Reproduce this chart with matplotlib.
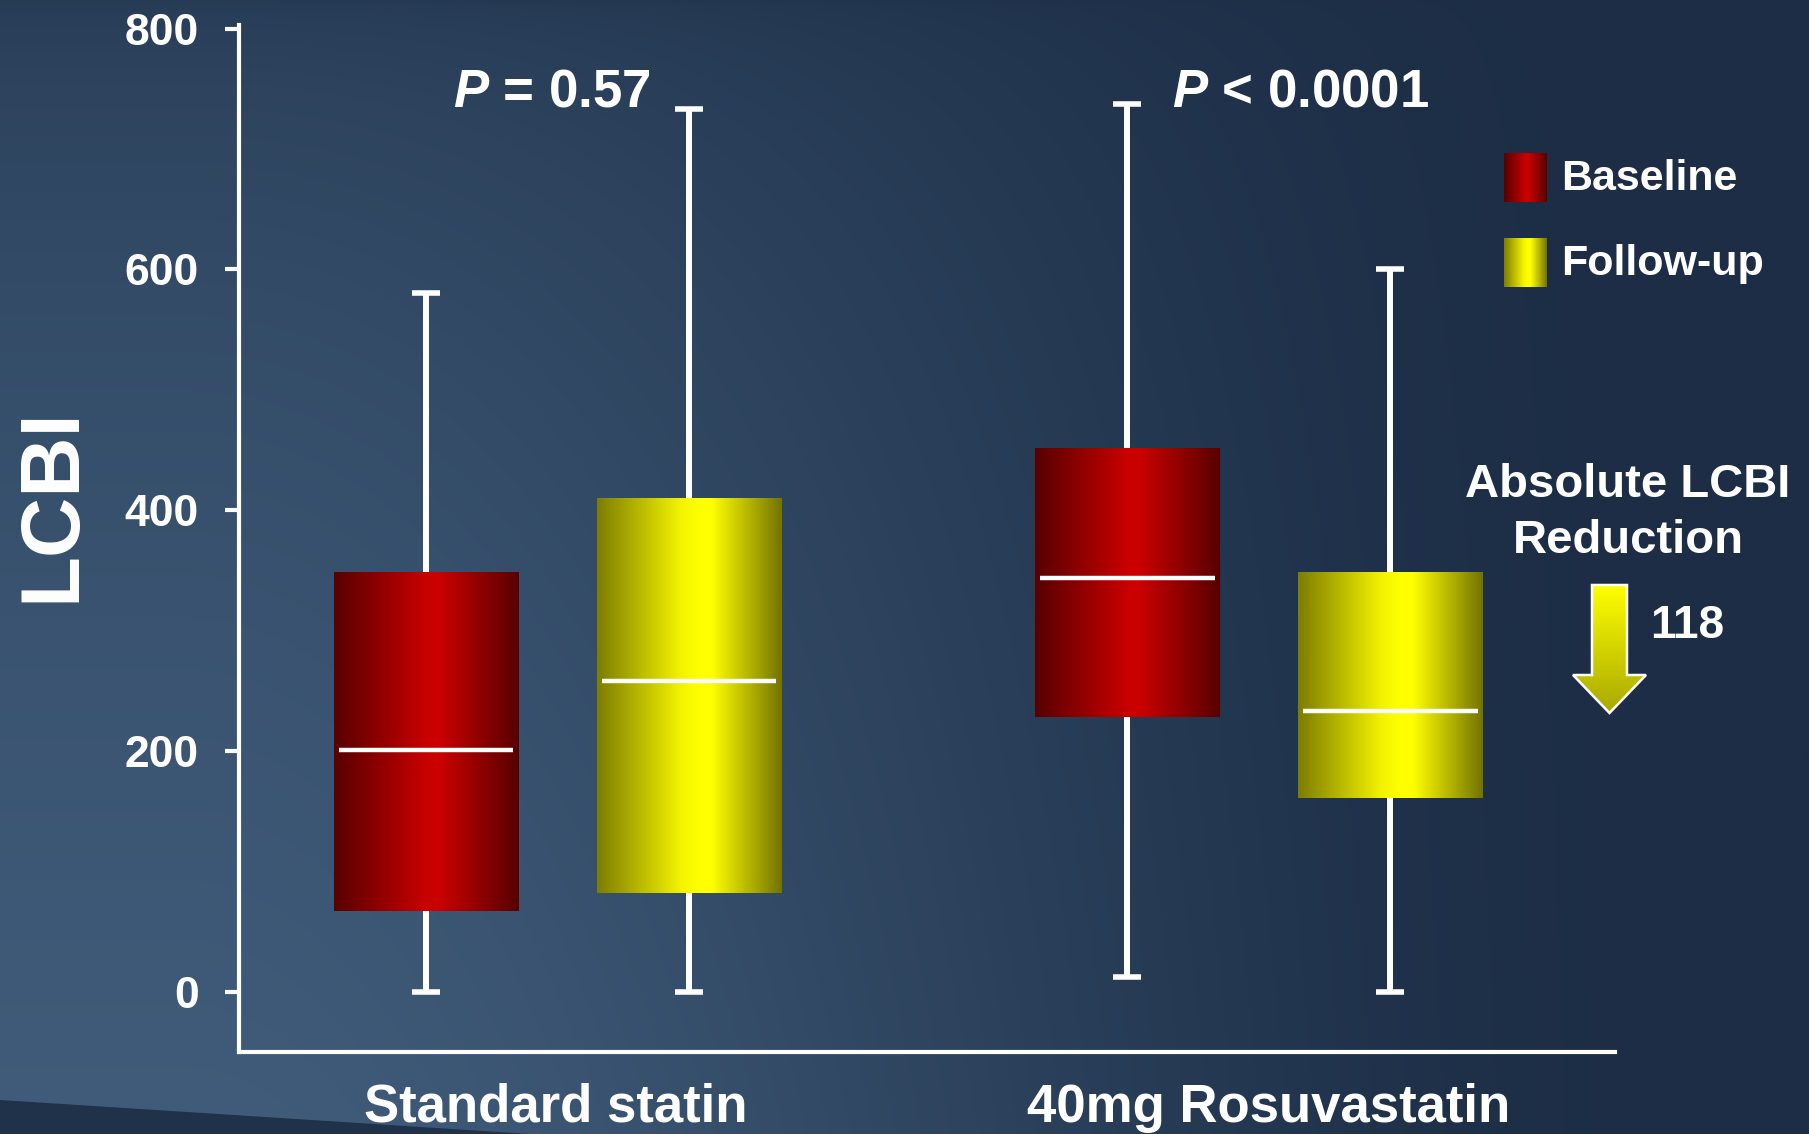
import matplotlib
matplotlib.use("Agg")
import matplotlib.pyplot as plt
import numpy as np
from matplotlib.colors import LinearSegmentedColormap, to_rgb
from matplotlib.patches import Polygon

plt.rcParams['font.family'] = ['Liberation Sans', 'DejaVu Sans']
plt.rcParams['mathtext.fontset'] = 'custom'
plt.rcParams['mathtext.it'] = 'Liberation Sans:bold:italic'
plt.rcParams['mathtext.rm'] = 'Liberation Sans:bold'

# ---- data ----
groups = ["Standard statin", "40mg Rosuvastatin"]
series = ["Baseline", "Follow-up"]
base_low = [0, 12]
base_q1 = [67, 228]
base_med = [201, 344]
base_q3 = [348, 451]
base_high = [580, 737]
fu_low = [0, 0]
fu_q1 = [82, 161]
fu_med = [258, 233]
fu_q3 = [410, 348]
fu_high = [733, 600]
p_labels = ["$P$ = 0.57", "$P$ < 0.0001"]
reduction = "118"
yticks = [0, 200, 400, 600, 800]

W, H = 1809, 1134
fig = plt.figure(figsize=(W / 100, H / 100), dpi=100)

# background gradient (slide backdrop): light bottom-left, dark right
bg = fig.add_axes([0, 0, 1, 1], zorder=-10)
dark, light = np.array(to_rgb("#1c2d45")), np.array(to_rgb("#405c7a"))
yy, xx = np.mgrid[0:1:300j, 0:1:450j]
t = np.clip((xx - 0.1) / 0.85, 0, 1)
hx = 1 - (3 * t ** 2 - 2 * t ** 3)
gy = 0.28 + 0.72 * np.sqrt(yy)
s = (gy * hx)[..., None]
img = dark + (light - dark) * s
bg.imshow(img, extent=[0, W, H, 0], aspect="auto", interpolation="bilinear")
bg.add_patch(Polygon([(0, 1100), (0, H), (530, H)], closed=True,
                     facecolor="#20314a", edgecolor="none"))
bg.set_xlim(0, W); bg.set_ylim(H, 0); bg.axis("off")

red_cmap = LinearSegmentedColormap.from_list(
    "red", [(0, "#580000"), (0.5, "#c80000"), (0.56, "#cc0000"), (1, "#580000")])
yel_cmap = LinearSegmentedColormap.from_list(
    "yel", [(0, "#7d7d00"), (0.45, "#f2f200"), (0.55, "#ffff00"),
            (0.62, "#ffff00"), (1, "#737300")])
grad = np.linspace(0, 1, 256)[None, :]

ax = fig.add_axes([239 / W, 1 - 1052 / H, (1615 - 239) / W, (1052 - 25) / H])
ax.patch.set_alpha(0)

x = np.arange(len(groups))
off, bw, cap = 0.1875, 0.263, 0.02


def draw_box(pos, lo, q1, med, q3, hi, cmap):
    ax.imshow(grad, cmap=cmap, aspect="auto", interpolation="bilinear",
              extent=[pos - bw / 2, pos + bw / 2, q1, q3], zorder=3)
    ax.plot([pos - bw / 2 + 0.007, pos + bw / 2 - 0.007], [med, med],
            color="white", lw=3.2, solid_capstyle="butt", zorder=4)
    ax.plot([pos, pos], [q3, hi], color="white", lw=4.3, solid_capstyle="butt", zorder=2)
    ax.plot([pos, pos], [lo, q1], color="white", lw=4.3, solid_capstyle="butt", zorder=2)
    ax.plot([pos - cap, pos + cap], [hi, hi], color="white", lw=4, solid_capstyle="butt", zorder=2)
    ax.plot([pos - cap, pos + cap], [lo, lo], color="white", lw=4, solid_capstyle="butt", zorder=2)


for i in range(len(groups)):
    draw_box(x[i] - off, base_low[i], base_q1[i], base_med[i], base_q3[i], base_high[i], red_cmap)
    draw_box(x[i] + off, fu_low[i], fu_q1[i], fu_med[i], fu_q3[i], fu_high[i], yel_cmap)

ax.text(x[0] - 0.008, 747, p_labels[0], color="white", fontsize=38, fontweight="bold",
        ha="center", va="center")
ax.text(x[1] + 0.06, 747, p_labels[1], color="white", fontsize=38, fontweight="bold",
        ha="center", va="center")

ax.set_xlim(-0.454, 1.508)
ax.set_ylim(-50, 803)
ax.set_yticks(yticks)
ax.set_yticklabels([str(t) for t in yticks], fontsize=32, fontweight="bold", color="white")
ax.set_xticks([x[0] - 0.003, x[1] + 0.014])
ax.set_xticklabels(groups, fontsize=38, fontweight="bold", color="white")
ax.tick_params(axis="y", length=10, width=3, color="white", pad=19, direction="out")
ax.tick_params(axis="x", length=0, pad=22)
for sp in ["top", "right"]:
    ax.spines[sp].set_visible(False)
for sp in ["left", "bottom"]:
    ax.spines[sp].set_color("white")
    ax.spines[sp].set_linewidth(3)

fig.text(52 / W, 1 - 505 / H, "LCBI", rotation=90, fontsize=60, fontweight="bold",
         color="white", ha="center", va="center")

# legend swatches
for name, cmap, y0 in [(series[0], red_cmap, 153), (series[1], yel_cmap, 238)]:
    sw = fig.add_axes([1504 / W, 1 - (y0 + 49) / H, 43 / W, 49 / H])
    sw.imshow(grad, cmap=cmap, aspect="auto", interpolation="bilinear")
    sw.axis("off")
    fig.text(1561 / W, 1 - (y0 + 26) / H, name, fontsize=31, fontweight="bold",
             color="white", ha="left", va="center")

# reduction annotation
fig.text(1628 / W, 1 - 485 / H, "Absolute LCBI", fontsize=34, fontweight="bold",
         color="white", ha="center", va="center")
fig.text(1628 / W, 1 - 541 / H, "Reduction", fontsize=34, fontweight="bold",
         color="white", ha="center", va="center")
fig.text(1687 / W, 1 - 626 / H, reduction, fontsize=33, fontweight="bold",
         color="white", ha="center", va="center")

ar = fig.add_axes([1565 / W, 1 - 720 / H, 90 / W, 142 / H])
arrow_cmap = LinearSegmentedColormap.from_list("arr", ["#ffff00", "#a8a800"])
im = ar.imshow(np.linspace(0, 1, 128)[:, None], cmap=arrow_cmap, aspect="auto",
               extent=[1565, 1655, 713, 585], interpolation="bilinear")
verts = [(1592, 585), (1627, 585), (1627, 675), (1646, 675), (1609.5, 713),
         (1573, 675), (1592, 675)]
poly = Polygon(verts, closed=True, facecolor="none", edgecolor="white", lw=1.8)
ar.add_patch(poly)
im.set_clip_path(poly)
ar.set_xlim(1565, 1655); ar.set_ylim(720, 578)
ar.axis("off")

fig.savefig("out.png", dpi=100)
